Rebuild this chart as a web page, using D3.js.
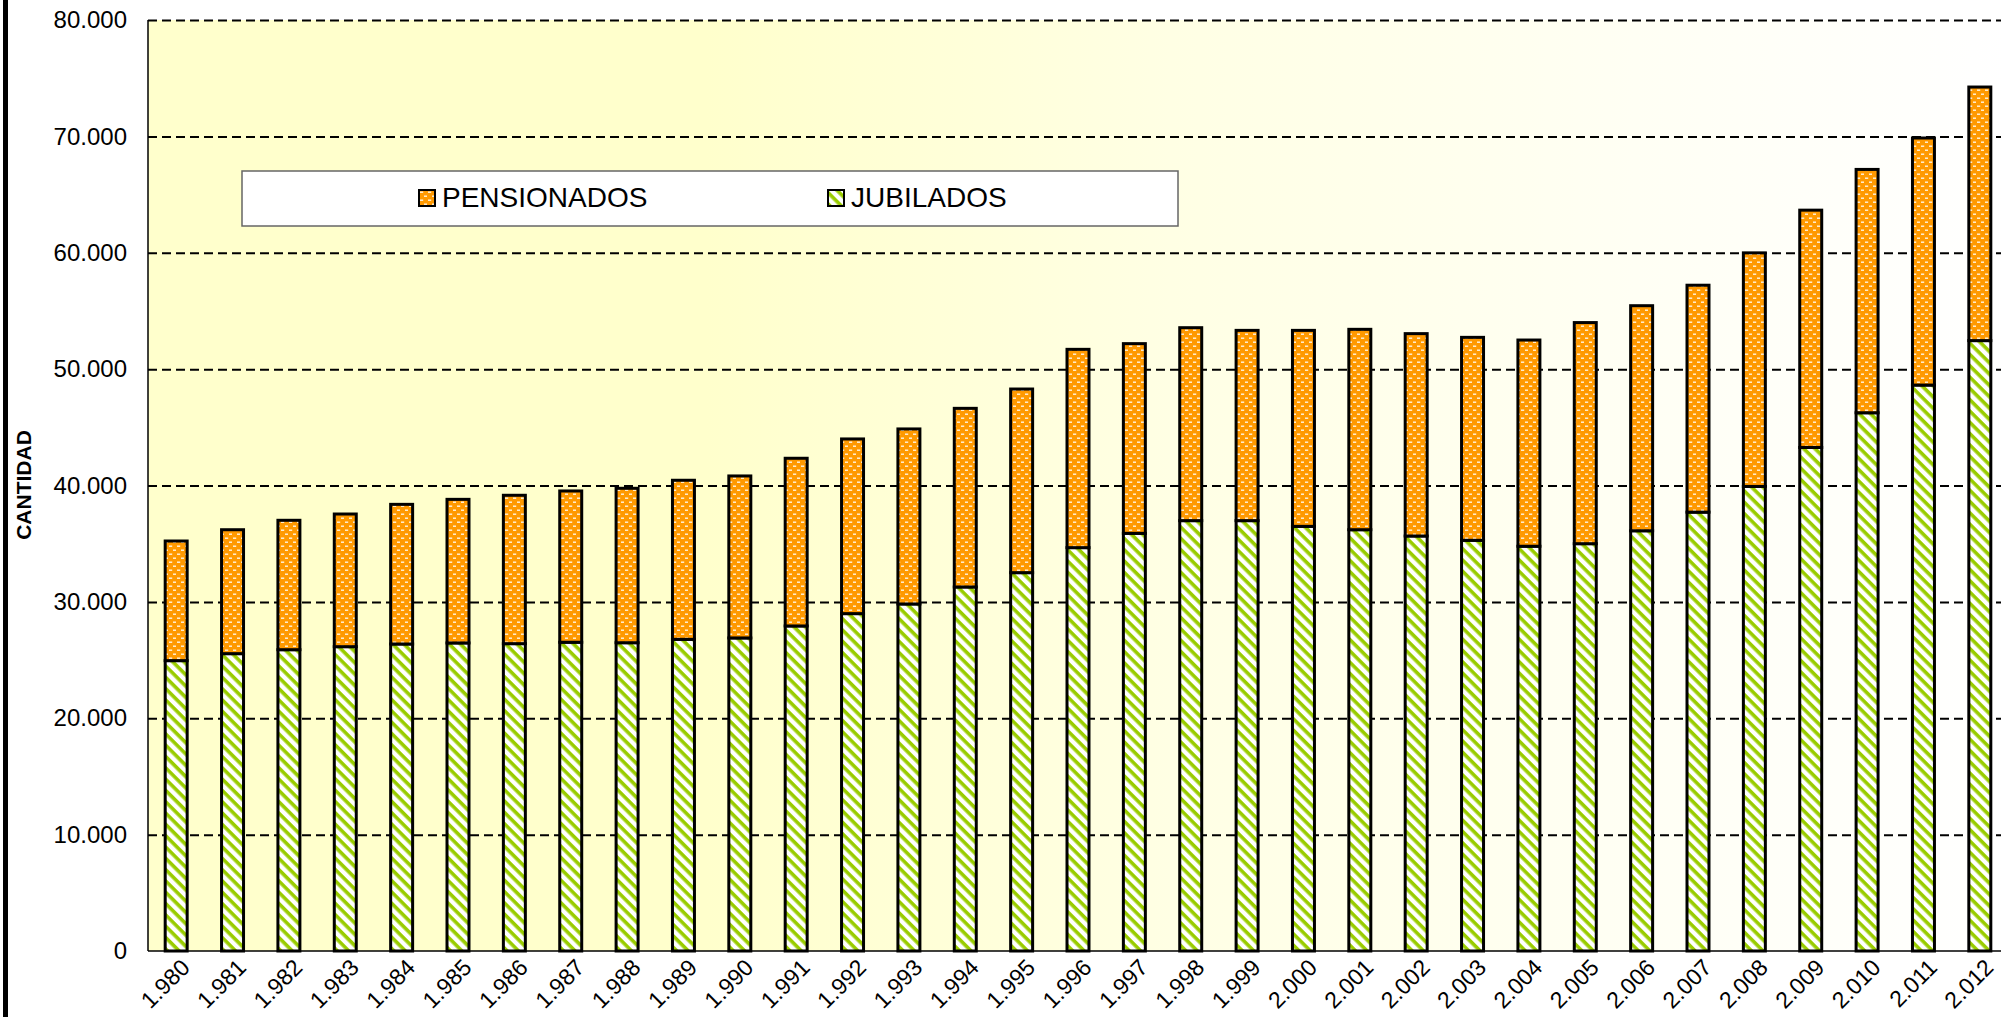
<!DOCTYPE html>
<html>
<head>
<meta charset="utf-8">
<script src="https://cdn.jsdelivr.net/npm/d3@7"></script>
<style>
  body { margin: 0; background: #ffffff; }
  svg { display: block; font-family: "Liberation Sans", Arial, sans-serif; }
</style>
</head>
<body>
<svg id="chart" width="2001" height="1017"></svg>
<script>
// tick labels of the x axis
var years = ["1.980", "1.981", "1.982", "1.983", "1.984", "1.985", "1.986", "1.987", "1.988", "1.989",
             "1.990", "1.991", "1.992", "1.993", "1.994", "1.995", "1.996", "1.997", "1.998", "1.999",
             "2.000", "2.001", "2.002", "2.003", "2.004", "2.005", "2.006", "2.007", "2.008", "2.009",
             "2.010", "2.011", "2.012"];

// bottom series (green stripes)
var jubilados = [24950, 25550, 25890, 26150, 26380, 26470, 26410, 26530, 26490, 26780,
                 26900, 27930, 28990, 29820, 31280, 32510, 34660, 35890, 36980, 36980,
                 36490, 36200, 35660, 35290, 34780, 35000, 36110, 37710, 39920, 43270,
                 46250, 48630, 52450];

// top series (orange dots)
var pensionados = [10280, 10650, 11120, 11400, 12000, 12340, 12750, 13000, 13270, 13670,
                   13920, 14410, 15010, 15040, 15350, 15780, 17040, 16300, 16580, 16350,
                   16840, 17220, 17390, 17440, 17720, 19000, 19340, 19500, 20070, 20390,
                   20910, 21230, 21790];

var yTicks = [0, 10000, 20000, 30000, 40000, 50000, 60000, 70000, 80000];
var seriesKeys = ["jubilados", "pensionados"];
var legendItems = [{ key: "pensionados", label: "PENSIONADOS" }, { key: "jubilados", label: "JUBILADOS" }];

var svg = d3.select("#chart"),
    MARGINS = { top: 20, left: 148 },
    PLOT_W = 1860,
    PLOT_H = 931;

var es = d3.formatLocale({ decimal: ",", thousands: ".", grouping: [3], currency: ["", ""] });
var fmt = es.format(",d");

var rows = years.map(function(y, i) {
    return { year: y, jubilados: jubilados[i], pensionados: pensionados[i] };
});
var stacked = d3.stack().keys(seriesKeys)(rows);

var xRange = d3.scaleBand().domain(years).range([MARGINS.left, MARGINS.left + PLOT_W]).paddingInner(0.61).paddingOuter(0.305);
var yRange = d3.scaleLinear().domain([0, 80000]).range([MARGINS.top + PLOT_H, MARGINS.top]);

// patterns and background
var defs = svg.append("defs");
var grad = defs.append("linearGradient").attr("id", "bg").attr("x1", 0).attr("y1", 0).attr("x2", 1).attr("y2", 0);
grad.append("stop").attr("offset", "0").attr("stop-color", "#ffffcc");
grad.append("stop").attr("offset", "0.3").attr("stop-color", "#ffffcc");
grad.append("stop").attr("offset", "0.55").attr("stop-color", "#ffffe4");
grad.append("stop").attr("offset", "0.8").attr("stop-color", "#fffff4");
grad.append("stop").attr("offset", "1").attr("stop-color", "#ffffff");

var pGreen = defs.append("pattern").attr("id", "pat-jubilados")
    .attr("patternUnits", "userSpaceOnUse").attr("width", 8).attr("height", 8)
    .attr("patternTransform", "rotate(45)");
pGreen.append("rect").attr("width", 8).attr("height", 8).attr("fill", "#ffffff");
pGreen.append("rect").attr("width", 8).attr("height", 3.6).attr("fill", "#99cc00");

var pOrange = defs.append("pattern").attr("id", "pat-pensionados")
    .attr("patternUnits", "userSpaceOnUse").attr("width", 8).attr("height", 8);
pOrange.append("rect").attr("width", 8).attr("height", 8).attr("fill", "#ff9900");
pOrange.append("rect").attr("x", 1).attr("y", 1.5).attr("width", 3.2).attr("height", 1.4).attr("fill", "#fff4e0");
pOrange.append("rect").attr("x", 5).attr("y", 5.5).attr("width", 3.2).attr("height", 1.4).attr("fill", "#fff4e0");

// thick left border of the chart area
svg.append("rect").attr("x", 3).attr("y", 0).attr("width", 5).attr("height", 1017).attr("fill", "#000");

svg.append("rect")
    .attr("x", MARGINS.left).attr("y", MARGINS.top)
    .attr("width", PLOT_W).attr("height", PLOT_H)
    .attr("fill", "url(#bg)");

// dashed gridlines
var grid = svg.append("g")
    .attr("transform", "translate(" + MARGINS.left + ",0)")
    .call(d3.axisLeft(yRange).tickValues(yTicks.slice(1)).tickSize(-PLOT_W).tickFormat(""));
grid.select(".domain").remove();
grid.selectAll("line").attr("stroke", "#000").attr("stroke-width", 2).attr("stroke-dasharray", "9,5");

// y axis labels
var yAxis = svg.append("g")
    .attr("transform", "translate(" + MARGINS.left + ",0)")
    .call(d3.axisLeft(yRange).tickValues(yTicks).tickSize(0).tickPadding(21).tickFormat(fmt));
yAxis.select(".domain").remove();
yAxis.selectAll("text").attr("font-size", 24).attr("fill", "#000").attr("font-family", "Liberation Sans, Arial, sans-serif");

// stacked bars
svg.append("g").selectAll("g")
    .data(stacked)
    .enter().append("g")
    .attr("fill", function(d) { return "url(#pat-" + d.key + ")"; })
    .selectAll("rect")
    .data(function(d) { return d; })
    .enter().append("rect")
    .attr("x", function(d) { return xRange(d.data.year); })
    .attr("width", xRange.bandwidth())
    .attr("y", function(d) { return yRange(d[1]); })
    .attr("height", function(d) { return yRange(d[0]) - yRange(d[1]); })
    .attr("stroke", "#000")
    .attr("stroke-width", 3);

// plot frame lines (left and bottom)
svg.append("line")
    .attr("x1", MARGINS.left).attr("x2", MARGINS.left)
    .attr("y1", MARGINS.top).attr("y2", MARGINS.top + PLOT_H)
    .attr("stroke", "#000").attr("stroke-width", 1.5);
svg.append("line")
    .attr("x1", MARGINS.left).attr("x2", MARGINS.left + PLOT_W)
    .attr("y1", MARGINS.top + PLOT_H).attr("y2", MARGINS.top + PLOT_H)
    .attr("stroke", "#000").attr("stroke-width", 1.5);

// x axis labels, rotated
var xAxis = svg.append("g")
    .attr("transform", "translate(0," + (MARGINS.top + PLOT_H) + ")")
    .call(d3.axisBottom(xRange).tickSize(0).tickFormat(function(d) { return d; }));
xAxis.select(".domain").remove();
xAxis.selectAll("text")
    .attr("font-size", 23).attr("fill", "#000").attr("font-family", "Liberation Sans, Arial, sans-serif")
    .attr("text-anchor", "end")
    .attr("dy", null).attr("y", 0)
    .attr("transform", "translate(15,18) rotate(-45)");

// y axis title
svg.append("text")
    .attr("transform", "translate(31,485) rotate(-90)")
    .attr("text-anchor", "middle")
    .attr("font-size", 21).attr("font-weight", "bold").attr("fill", "#000")
    .text("CANTIDAD");

// legend
var legend = svg.append("g");
legend.append("rect")
    .attr("x", 242).attr("y", 171).attr("width", 936).attr("height", 55)
    .attr("fill", "#fff").attr("stroke", "#666").attr("stroke-width", 1.5);
var itemX = [419, 828];
var li = legend.selectAll("g.item").data(legendItems).enter().append("g")
    .attr("class", "item")
    .attr("transform", function(d, i) { return "translate(" + itemX[i] + ",190)"; });
li.append("rect")
    .attr("width", 16).attr("height", 16)
    .attr("fill", function(d) { return "url(#pat-" + d.key + ")"; })
    .attr("stroke", "#000").attr("stroke-width", 2);
li.append("text")
    .attr("x", 23).attr("y", 17)
    .attr("font-size", 28).attr("fill", "#000")
    .text(function(d) { return d.label; });
</script>
</body>
</html>
